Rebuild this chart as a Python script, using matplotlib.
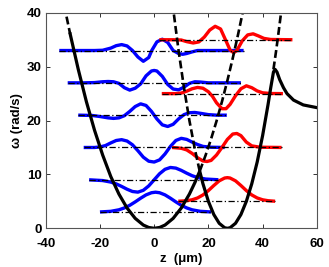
import matplotlib
matplotlib.use('Agg')
import matplotlib.pyplot as plt

# Left well (blue) states: level and wavefunction drawn on top of it
blue_levels = [3, 9, 15, 21, 27, 33]
blue_z = [
    [-20, -16, -13, -11, -9, -7, -5, -3, -1, 0.5, 2, 4, 6, 8, 10, 12, 14, 17, 21],
    [-24, -19, -16, -14, -12, -10, -8, -6, -4, -2, 0, 2, 4, 6, 8, 10, 12, 14, 16, 19, 23.7],
    [-26, -22, -20, -18, -16, -14, -12, -10, -8, -6, -4, -2, 0, 2, 4, 6, 8, 10, 12, 14, 16, 18, 21, 26],
    [-28, -23, -20, -17, -15, -13, -11, -9, -7, -5, -3, -1, 0, 1, 3, 5, 7, 9, 11, 13, 15, 17, 20, 23, 26.8],
    [-31.9, -26, -22, -19, -17, -15, -13, -11, -9, -7, -5, -3, -1, 0, 1, 3, 5, 7, 9, 11, 13, 15, 17, 20, 25, 32],
    [-35, -26, -22, -19, -16, -14, -12, -10, -8, -6, -4, -2, -0.9, 1, 3, 5, 7, 9, 10.5, 12, 14, 16, 19, 25, 33],
]
blue_w = [
    [3.03, 3.15, 3.43, 3.78, 4.27, 4.9, 5.58, 6.2, 6.6, 6.7, 6.6, 6.2, 5.58, 4.9, 4.27, 3.78, 3.43, 3.15, 3.03],
    [9.0, 8.86, 8.58, 8.24, 7.77, 7.25, 6.83, 6.71, 7.05, 7.87, 9.0, 10.13, 10.95, 11.29, 11.17, 10.75, 10.23, 9.76, 9.42, 9.14, 9.01],
    [15, 15, 15.1, 15.35, 15.85, 16.3, 16.45, 16.2, 15.5, 14.4, 13.2, 12.45, 12.3, 12.7, 13.8, 15.2, 16.3, 16.7, 16.5, 16.0, 15.55, 15.2, 15.05, 15],
    [21, 20.95, 20.75, 20.5, 20.4, 20.5, 20.9, 21.7, 22.6, 23.1, 22.8, 21.7, 21.0, 20.3, 19.2, 18.9, 19.3, 20.3, 21.1, 21.45, 21.5, 21.35, 21.1, 21.0, 21.0],
    [27, 27, 27.05, 27.2, 27.25, 27.2, 26.9, 26.1, 25.65, 26.0, 26.8, 28.3, 29.2, 29.3, 29.2, 28.2, 26.7, 25.85, 25.7, 26.2, 26.9, 27.2, 27.15, 27, 27, 27],
    [33, 33, 33, 33.05, 33.45, 33.9, 34.1, 33.85, 33.0, 31.8, 31.0, 31.7, 33.0, 34.6, 35.1, 34.5, 33.0, 32.45, 32.3, 32.45, 32.75, 33.0, 33.0, 33.0, 33.0],
]

# Right well (red) states
red_levels = [5, 15, 25, 35]
red_z = [
    [8.9, 12, 14, 16, 18, 20, 22, 24, 26, 27, 28, 30, 32, 34, 36, 38, 40, 42, 44.6],
    [6.6, 10, 12, 14, 16, 18, 19.5, 21, 23, 25, 27, 29, 30.5, 32, 34, 36, 39, 47],
    [2.8, 8, 10, 12, 14, 16, 18, 20, 21.5, 23, 25, 26.5, 28, 30, 32, 34, 36, 38, 40, 43, 47.5],
    [1.9, 7, 10, 12, 14.4, 16.5, 18.5, 20.5, 22.5, 24.5, 26.3, 28, 29.3, 30.5, 32.5, 34.5, 36.5, 38.5, 40.5, 43, 51],
]
red_w = [
    [5.02, 5.12, 5.29, 5.63, 6.19, 7.0, 7.94, 8.81, 9.33, 9.4, 9.33, 8.81, 7.94, 7.0, 6.19, 5.63, 5.29, 5.12, 5.02],
    [15, 14.85, 14.55, 13.9, 13.1, 12.5, 12.4, 12.6, 13.6, 15.0, 16.5, 17.5, 17.6, 17.2, 16.0, 15.3, 15.05, 15],
    [25, 25, 25.1, 25.45, 25.9, 26.15, 26.0, 25.35, 24.5, 23.3, 22.2, 22.2, 23.0, 24.6, 25.9, 26.45, 26.1, 25.5, 25.15, 25.02, 25],
    [35, 35, 34.95, 34.65, 34.4, 34.6, 35.5, 36.8, 37.5, 37.0, 35.0, 33.1, 32.6, 33.0, 34.8, 35.9, 36.1, 35.7, 35.25, 35.05, 35],
]

# Double well potential (solid) and the hidden parts of the two parabolas (dashed)
pot_z = [-31, -28, -25, -22, -19, -16, -13, -10, -7, -4, -2, 0, 2, 4, 7, 10, 13, 15, 16.8,
         18, 20, 22, 24, 26, 27, 28, 30, 32, 34, 36, 38, 40, 42, 43, 44, 44.6, 45.3, 46.3,
         47.7, 49, 51.4, 55, 60]
pot_w = [36.1, 29.5, 23.5, 18.2, 13.6, 9.6, 6.35, 3.76, 1.84, 0.6, 0.15, 0, 0.15, 0.6, 1.84, 3.76, 6.35, 8.46, 10.6,
         8.26, 5.0, 2.55, 0.92, 0.1, 0, 0.1, 0.92, 2.55, 5.0, 8.26, 12.3, 17.2, 22.95, 26.1, 29.0, 29.5, 29.0, 27.6,
         26.1, 25.0, 23.8, 22.9, 22.4]
dash_z = [
    [-33.2, -32, -31],
    [16.8, 19, 21, 23, 25, 27, 29, 31, 33],
    [16.8, 15, 13, 11, 9, 7],
    [44, 45, 46, 47],
]
dash_w = [
    [41.4, 38.5, 36.1],
    [10.6, 13.6, 16.6, 19.9, 23.5, 27.4, 31.6, 36.1, 40.9],
    [10.6, 14.7, 20.0, 26.1, 33.0, 40.8],
    [29.5, 33.0, 36.8, 40.8],
]

plt.rcParams['font.family'] = ['Liberation Sans', 'DejaVu Sans']
plt.rcParams['axes.unicode_minus'] = False

fig = plt.figure(figsize=(3.29, 2.67), dpi=100)
ax = fig.add_axes([0.139, 0.145, 0.824, 0.807])

# wavefunctions
for z, w in zip(blue_z, blue_w):
    ax.plot(z, w, color='#0000ff', lw=2.4, solid_capstyle='butt')
for z, w in zip(red_z, red_w):
    ax.plot(z, w, color='#ff0000', lw=2.4, solid_capstyle='butt')

# energy levels
for z, lev in zip(blue_z, blue_levels):
    ax.plot([z[0], z[-1]], [lev, lev], color='k', lw=0.9, dashes=(5, 2, 1, 2))
for z, lev in zip(red_z, red_levels):
    ax.plot([z[0], z[-1]], [lev, lev], color='k', lw=0.9, dashes=(5, 2, 1, 2))

# potential
ax.plot(pot_z, pot_w, color='k', lw=2.3)
for z, w in zip(dash_z, dash_w):
    ax.plot(z, w, color='k', lw=1.9, dashes=(3, 1.4))

ax.set_xlim(-40, 60)
ax.set_ylim(0, 40)
ax.set_xticks([-40, -20, 0, 20, 40, 60])
ax.set_yticks([0, 10, 20, 30, 40])
ax.tick_params(direction='in', top=True, right=True, length=3, width=0.7,
               labelsize=9.5, colors='#333333', labelcolor='k')
ax.tick_params(axis='x', pad=7)
ax.tick_params(axis='y', pad=3)
for lbl in ax.get_xticklabels() + ax.get_yticklabels():
    lbl.set_fontweight('bold')
for s in ax.spines.values():
    s.set_color('#555555')
    s.set_linewidth(0.8)

ax.set_xlabel('z  (\u03bcm)', fontsize=9.5, fontweight='bold', labelpad=2)
ax.set_ylabel('\u03c9 (rad/s)', fontsize=9.5, fontweight='bold', labelpad=3)

fig.savefig('out.png', dpi=100)
